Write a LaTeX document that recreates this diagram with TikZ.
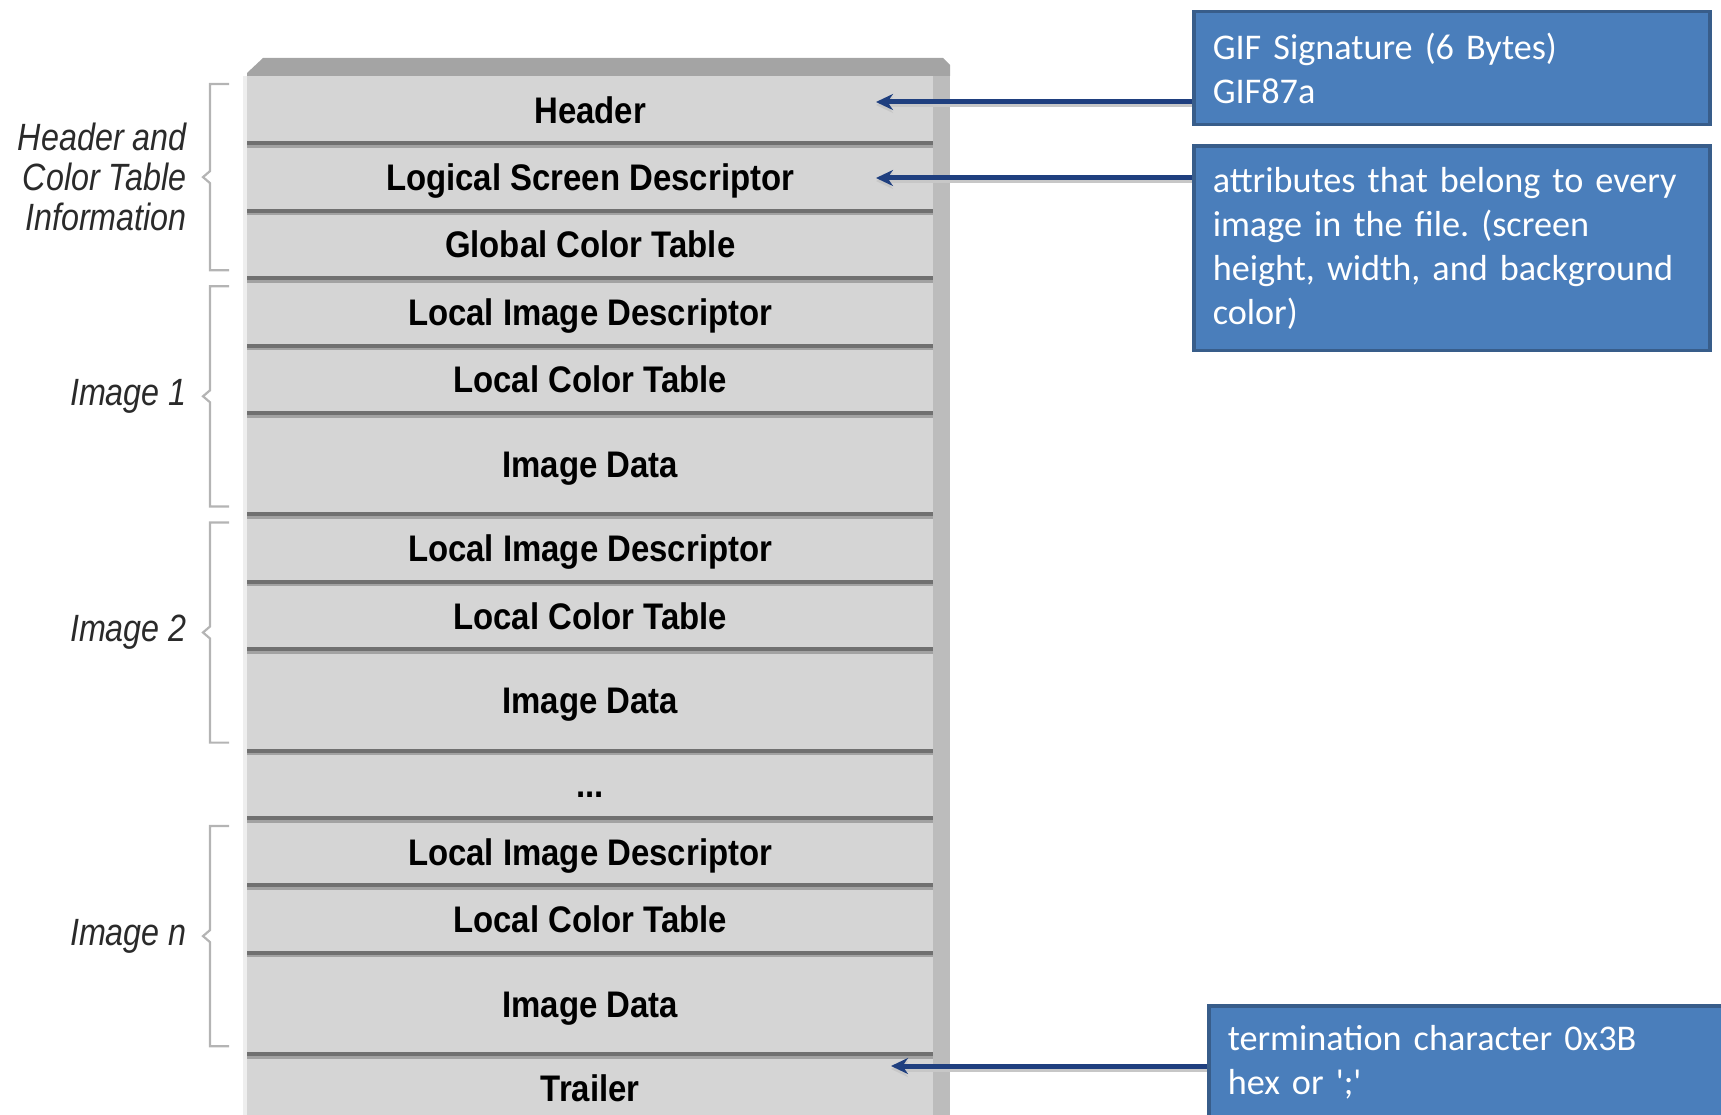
\documentclass[tikz,border=0pt]{standalone}
\usepackage{fontspec}
\usepackage{xcolor}
\usepackage{tikz}
\usetikzlibrary{arrows.meta, positioning, calc}
\newfontfamily\blkfont[FakeStretch=0.89]{Liberation Sans}
\newfontfamily\grpfont[FakeStretch=0.85]{Liberation Sans}
\newfontfamily\notefont{Carlito}
\definecolor{blkgray}{HTML}{D5D5D5}
\definecolor{sepdark}{HTML}{707070}
\definecolor{seplight}{HTML}{A2A2A2}
\definecolor{topgray}{HTML}{A4A4A4}
\definecolor{sidegray}{HTML}{BCBCBC}
\definecolor{edgelight}{HTML}{EEEEEE}
\definecolor{bracegray}{HTML}{B4B4B4}
\definecolor{grptext}{HTML}{2A2A2A}
\definecolor{noteblue}{HTML}{4A7EBB}
\definecolor{noteedge}{HTML}{385D8A}
\definecolor{arrowblue}{HTML}{1F3F7F}
\tikzset{
  blk/.style={rectangle, fill=blkgray, minimum width=686pt, minimum height=67pt,
              inner sep=0pt, text height=27pt, text depth=0pt,
              font=\blkfont\bfseries\fontsize{37}{40}\selectfont},
  blktall/.style={blk, minimum height=101pt},
  sepline/.style={draw=sepdark, line width=4pt},
  seplite/.style={draw=seplight, line width=2.5pt},
  brk/.style={draw=bracegray, line width=2.2pt},
  grp/.style={font=\grpfont\itshape\fontsize{38}{40}\selectfont, text=grptext,
              align=right, inner sep=0pt},
  note/.style={rectangle, draw=noteedge, line width=3.5pt, fill=noteblue, text=white,
               text width=478pt, inner xsep=19pt, inner ysep=0pt, align=left,
               font=\notefont\fontsize{36.2}{44}\selectfont\frenchspacing},
  arr/.style={-{Stealth[length=17pt, width=16pt]}, line width=5pt, draw=arrowblue},
  arrsh/.style={arr, draw=black!22, transform canvas={yshift=-3pt}}
}
\begin{document}
\begin{tikzpicture}[x=1pt, y=-1pt, node distance=0pt]
    \useasboundingbox (0,0) rectangle (1721,1115);
    \clip (0,0) rectangle (1721,1115);
    % shaded frame of the stack
    \fill[sidegray] (933,68) rectangle (950,1125);
    \fill[topgray] (247,76) -- (247,73) -- (263,58) -- (943,58) -- (950,65)
      -- (950,76) -- cycle;
    \fill[edgelight] (243,76) rectangle (247,1125);
    % the blocks of the file
    \node[blk, anchor=north west] (r1) at (247,76) {Header};
    \node[blk, below=of r1] (r2) {Logical Screen Descriptor};
    \node[blk, below=of r2] (r3) {Global Color Table};
    \node[blk, below=of r3] (r4) {Local Image Descriptor};
    \node[blk, below=of r4] (r5) {Local Color Table};
    \node[blktall, below=of r5] (r6) {Image Data};
    \node[blk, below=of r6] (r7) {Local Image Descriptor};
    \node[blk, below=of r7] (r8) {Local Color Table};
    \node[blktall, below=of r8] (r9) {Image Data};
    \node[blk, below=of r9] (r10) {...};
    \node[blk, below=of r10] (r11) {Local Image Descriptor};
    \node[blk, below=of r11] (r12) {Local Color Table};
    \node[blktall, below=of r12] (r13) {Image Data};
    \node[blk, below=of r13] (r14) {Trailer};
    \foreach \i in {2,...,14} {
      \draw[sepline] (r\i.north west) -- (r\i.north east);
      \draw[seplite] ([yshift=-3.25pt]r\i.north west) -- ([yshift=-3.25pt]r\i.north east);
    }
    % groups on the left
    \foreach \a/\b/\t in {r1/r3/{Header and\\Color Table\\Information},
                          r4/r6/{Image 1}, r7/r9/{Image 2}, r11/r13/{Image n}} {
      \coordinate (m) at ($(\a.north west)!0.5!(\b.south west)$);
      \draw[brk] ([xshift=-18pt,yshift=-8pt]\a.north west)
        -- ([xshift=-37pt,yshift=-8pt]\a.north west)
        -- ([xshift=-37pt,yshift=6pt]m) -- ([xshift=-44pt]m)
        -- ([xshift=-37pt,yshift=-6pt]m)
        -- ([xshift=-37pt,yshift=8pt]\b.south west)
        -- ([xshift=-18pt,yshift=8pt]\b.south west);
      \node[grp, anchor=east] (g\a) at ([xshift=-60pt]m) {\t};
    }
    % notes on the right
    \node[note, minimum height=113pt, anchor=north west] (sig) at (1192,10)
         {GIF Signature (6 Bytes)\\GIF87a};
    \node[note, minimum height=204pt, below=18pt of sig] (attr)
         {attributes that belong to every\\image in the file. (screen\\height, width, and background\\color)};
    \node[note, minimum height=112pt, anchor=north west] (trm) at (1207,1004)
         {termination character 0x3B\\hex or ';'};
    \coordinate (tipsig) at (876,102);
    \coordinate (tipattr) at (876,178);
    \coordinate (tiptrm) at (891,1066);
    \foreach \n/\p in {sig/tipsig, attr/tipattr, trm/tiptrm} {
      \draw[arrsh] (\n.west |- \p) -- (\p);
      \draw[arr] (\n.west |- \p) -- (\p);
    }
  \end{tikzpicture}
\end{document}
